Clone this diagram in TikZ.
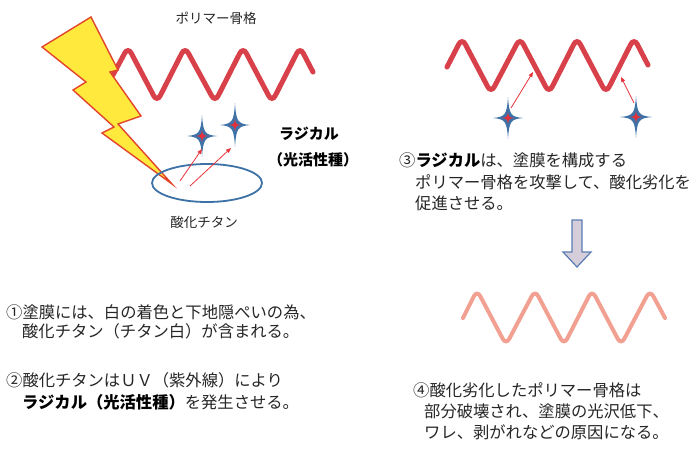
\documentclass[tikz,border=0pt]{standalone}
\usepackage{fontspec}
\newfontfamily\jp{Noto Sans CJK JP}
\usetikzlibrary{arrows.meta}

\definecolor{textgray}{HTML}{262626}
\definecolor{chainred}{HTML}{D8404A}
\definecolor{chainpale}{HTML}{F2A092}
\definecolor{boltfill}{HTML}{FFE93C}
\definecolor{boltedge}{HTML}{E2452B}
\definecolor{oxideblue}{HTML}{3C72A6}
\definecolor{starblue}{HTML}{3F73A8}
\definecolor{starcore}{HTML}{E5303A}
\definecolor{radred}{HTML}{E8343C}
\definecolor{downfill}{HTML}{D6CDDA}
\definecolor{downedge}{HTML}{5A7DB5}

\tikzset{
  body/.style={font=\jp\fontsize{16.3}{20}\selectfont, text=textgray, anchor=west, inner sep=0pt},
  label/.style={font=\jp\fontsize{13.5}{16}\selectfont, text=textgray, inner sep=0pt},
  boldlabel/.style={font=\jp\bfseries\fontsize{15}{18}\selectfont, text=black, inner sep=0pt},
  chain/.style={line width=5pt, chainred, rounded corners=7pt, line cap=round},
  brokenchain/.style={line width=4pt, chainpale, rounded corners=7pt, line cap=round},
  radarrow/.style={radred, line width=0.8pt, -{Triangle[length=5pt,width=4pt]}},
}

% four-pointed sparkle: name, x, y, vertical half, horizontal half
\newcommand\sparkle[5]{%
  \coordinate (#1) at (#2,#3);
  \begin{scope}[shift={(#2,#3)}]
    \fill[starblue] (0,-#4) .. controls (1.2,-3) and (3,-1.2) .. (#5,0)
      .. controls (3,1.2) and (1.2,3) .. (0,#4)
      .. controls (-1.2,3) and (-3,1.2) .. (-#5,0)
      .. controls (-3,-1.2) and (-1.2,-3) .. cycle;
    \fill[starcore] (0,-6) .. controls (0.8,-1) and (1,-0.8) .. (6,0)
      .. controls (1,0.8) and (0.8,1) .. (0,6)
      .. controls (-0.8,1) and (-1,0.8) .. (-6,0)
      .. controls (-1,-0.8) and (-0.8,-1) .. cycle;
  \end{scope}%
}

\begin{document}
\begin{tikzpicture}[x=1pt, y=-1pt]
  \useasboundingbox (0,0) rectangle (699,450);
  \fill[white] (0,0) rectangle (699,450);

  % polymer backbone (left), partly hidden by the UV bolt
  \draw[chain] (113,75) -- (128,47) -- (157,102) -- (185,47) -- (215,102)
    -- (243,47) -- (272,102) -- (300,47) -- (313,72);

  % UV lightning bolt
  \filldraw[fill=boltfill, draw=boltedge, line width=1.4pt, line join=miter]
    (42,47) -- (91,17) -- (118,70) -- (110,72) -- (141,116) -- (118,124)
    -- (172,184) -- (102,133) -- (114,127) -- (73,90) -- (86,82) -- cycle;

  % titanium oxide particle
  \draw[oxideblue, line width=1.8pt] (207,183) ellipse [x radius=55, y radius=19];
  \node[label] (tio2) at (204,222) {酸化チタン};

  % radicals leaving the particle
  \sparkle{starA}{202}{136}{21}{15}
  \sparkle{starB}{235}{125}{22}{15}
  \coordinate (srcA) at (180,181);
  \coordinate (srcB) at (190,186);
  \coordinate (tipA) at (202,149);
  \coordinate (tipB) at (231,148);
  \draw[radarrow] (srcA) -- (tipA);
  \draw[radarrow] (srcB) -- (tipB);

  \node[label] (backbone) at (216,18) {ポリマー骨格};
  \node[boldlabel, anchor=west] (radical) at (279,134) {ラジカル};
  \node[boldlabel] (species) at (313,160) {（光活性種）};

  % polymer backbone attacked by radicals (right)
  \draw[chain] (447,67) -- (462,38) -- (491,93) -- (520,38) -- (549,93)
    -- (577,38) -- (606,93) -- (634,38) -- (648,65);
  \sparkle{starC}{508}{118}{21}{15}
  \sparkle{starD}{636}{117}{21}{16}
  \coordinate (srcC) at (511,108);
  \coordinate (srcD) at (634,103);
  \coordinate (hitC) at (533,72);
  \coordinate (hitD) at (621,77);
  \draw[radarrow] (srcC) -- (hitC);
  \draw[radarrow] (srcD) -- (hitD);

  % step arrow
  \filldraw[fill=downfill, draw=downedge, line width=1.2pt]
    (572,220) -- (582,220) -- (582,252) -- (591,252) -- (577,267)
    -- (563,252) -- (572,252) -- cycle;

  % degraded backbone
  \draw[brokenchain] (463,318) -- (477,290) -- (506,345) -- (535,290) -- (564,345)
    -- (592,290) -- (621,345) -- (650,290) -- (665,318);

  % explanations
  \node[body] (s1a) at (6,312) {①塗膜には、白の着色と下地隠ぺいの為、};
  \node[body] (s1b) at (22,331) {酸化チタン（チタン白）が含まれる。};
  \node[body] (s2a) at (6,380) {②酸化チタンはＵＶ（紫外線）により};
  \node[body] (s2b) at (22,402) {{\bfseries\color{black}ラジカル（光活性種）}を発生させる。};
  \node[body] (s3a) at (399,160) {③{\bfseries\color{black}ラジカル}は、塗膜を構成する};
  \node[body] (s3b) at (415,182) {ポリマー骨格を攻撃して、酸化劣化を};
  \node[body] (s3c) at (415,203) {促進させる。};
  \node[body] (s4a) at (413,390) {④酸化劣化したポリマー骨格は};
  \node[body] (s4b) at (424,411) {部分破壊され、塗膜の光沢低下、};
  \node[body] (s4c) at (424,432) {ワレ、剥がれなどの原因になる。};
\end{tikzpicture}
\end{document}
